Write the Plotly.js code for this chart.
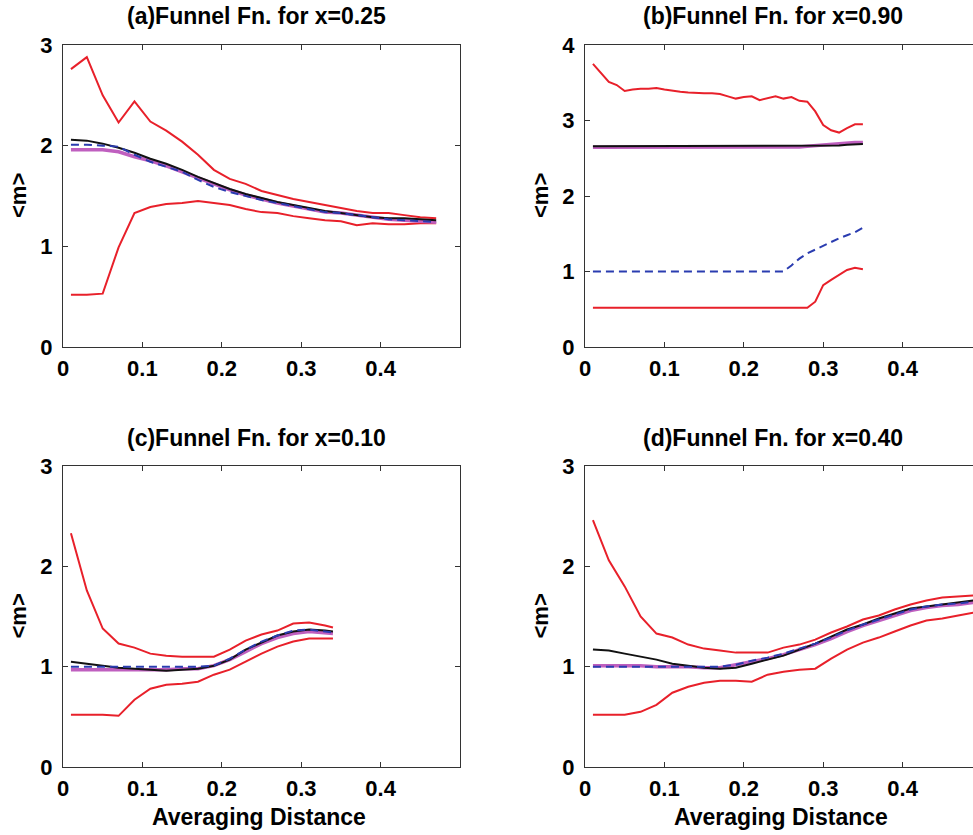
<!DOCTYPE html>
<html>
<head>
<meta charset="utf-8">
<script src="https://cdn.plot.ly/plotly-3.0.1.min.js"></script>
<style>
  html, body { margin: 0; padding: 0; overflow: hidden; background: #fff; }
  #plot { width: 1000px; height: 835px; }
</style>
</head>
<body>
<div id="plot"></div>
<script>
// Averaging distances (shared grid for panels a and d)
const xA = [0.01,0.03,0.05,0.07,0.09,0.11,0.13,0.15,0.17,0.19,0.21,0.23,0.25,0.27,0.29,0.31,0.33,0.35,0.37,0.39,0.41,0.43,0.45,0.47];
const xB = [0.01,0.02,0.03,0.04,0.05,0.06,0.07,0.08,0.09,0.10,0.11,0.12,0.13,0.14,0.15,0.16,0.17,0.18,0.19,0.20,0.21,0.22,0.23,0.24,0.25,0.26,0.27,0.28,0.29,0.30,0.31,0.32,0.33,0.34,0.35];
const xC = [0.01,0.03,0.05,0.07,0.09,0.11,0.13,0.15,0.17,0.19,0.21,0.23,0.25,0.27,0.29,0.31,0.33,0.34];
const xD = [0.01,0.03,0.05,0.07,0.09,0.11,0.13,0.15,0.17,0.19,0.21,0.23,0.25,0.27,0.29,0.31,0.33,0.35,0.37,0.39,0.41,0.43,0.45,0.47,0.49];

// (a) x = 0.25
const aUpper = [2.76,2.88,2.50,2.23,2.44,2.24,2.15,2.04,1.91,1.76,1.67,1.62,1.55,1.51,1.47,1.44,1.41,1.38,1.35,1.33,1.33,1.31,1.29,1.28];
const aLower = [0.52,0.52,0.53,0.99,1.33,1.39,1.42,1.43,1.45,1.43,1.41,1.37,1.34,1.33,1.30,1.28,1.26,1.25,1.21,1.23,1.22,1.22,1.23,1.23];
const aBlack = [2.06,2.05,2.02,1.98,1.93,1.87,1.82,1.76,1.69,1.63,1.57,1.52,1.48,1.44,1.41,1.38,1.35,1.33,1.31,1.29,1.28,1.28,1.27,1.26];
const aBlue  = [2.01,2.01,2.00,1.99,1.91,1.84,1.79,1.74,1.66,1.59,1.54,1.50,1.46,1.43,1.40,1.37,1.34,1.33,1.31,1.29,1.27,1.26,1.25,1.24];
const aMag   = [1.96,1.96,1.96,1.94,1.89,1.85,1.80,1.74,1.68,1.62,1.56,1.51,1.47,1.43,1.40,1.37,1.34,1.33,1.31,1.29,1.27,1.26,1.25,1.24];

// (b) x = 0.90
const bUpper = [3.75,3.63,3.51,3.47,3.39,3.41,3.42,3.42,3.43,3.41,3.39,3.38,3.37,3.36,3.36,3.36,3.35,3.32,3.29,3.31,3.32,3.27,3.29,3.32,3.29,3.31,3.26,3.25,3.12,2.94,2.87,2.84,2.90,2.95,2.95];
const bLower = [0.52,0.52,0.52,0.52,0.52,0.52,0.52,0.52,0.52,0.52,0.52,0.52,0.52,0.52,0.52,0.52,0.52,0.52,0.52,0.52,0.52,0.52,0.52,0.52,0.52,0.53,0.53,0.52,0.60,0.82,0.89,0.95,1.02,1.05,1.03];
const bBlack = [2.66,2.66,2.66,2.66,2.66,2.66,2.66,2.66,2.66,2.66,2.66,2.66,2.66,2.66,2.66,2.66,2.66,2.66,2.66,2.66,2.66,2.66,2.66,2.66,2.66,2.66,2.66,2.66,2.66,2.66,2.67,2.67,2.68,2.68,2.69];
const bBlue  = [1.00,1.00,1.00,1.00,1.00,1.00,1.00,1.00,1.00,1.00,1.00,1.00,1.00,1.00,1.00,1.00,1.00,1.00,1.00,1.00,1.00,1.00,1.00,1.00,1.00,1.08,1.17,1.24,1.29,1.35,1.39,1.44,1.48,1.52,1.58];
const bMag   = [2.645,2.645,2.645,2.645,2.645,2.645,2.645,2.645,2.645,2.645,2.645,2.645,2.645,2.645,2.645,2.645,2.645,2.645,2.645,2.645,2.645,2.645,2.645,2.645,2.645,2.645,2.65,2.66,2.67,2.68,2.69,2.70,2.70,2.71,2.71];

// (c) x = 0.10
const cUpper = [2.33,1.76,1.38,1.23,1.19,1.13,1.11,1.10,1.10,1.10,1.17,1.26,1.32,1.36,1.43,1.44,1.41,1.39];
const cLower = [0.52,0.52,0.52,0.51,0.67,0.78,0.82,0.83,0.85,0.92,0.97,1.05,1.13,1.20,1.25,1.28,1.28,1.28];
const cBlack = [1.05,1.03,1.01,0.99,0.98,0.97,0.96,0.97,0.98,1.01,1.07,1.17,1.24,1.31,1.35,1.37,1.36,1.35];
const cBlue  = [1.00,1.00,1.00,1.00,1.00,1.00,1.00,1.00,1.00,1.01,1.08,1.17,1.25,1.31,1.36,1.37,1.35,1.34];
const cMag   = [0.97,0.97,0.97,0.97,0.97,0.97,0.97,0.98,0.98,1.01,1.07,1.15,1.23,1.29,1.33,1.35,1.34,1.33];

// (d) x = 0.40
const dUpper = [2.46,2.06,1.80,1.50,1.33,1.29,1.22,1.18,1.16,1.14,1.14,1.14,1.19,1.22,1.27,1.34,1.40,1.47,1.51,1.57,1.62,1.66,1.69,1.70,1.71];
const dLower = [0.52,0.52,0.52,0.55,0.62,0.74,0.80,0.84,0.86,0.86,0.85,0.92,0.95,0.97,0.98,1.08,1.17,1.24,1.29,1.35,1.41,1.46,1.48,1.51,1.54];
const dBlack = [1.17,1.16,1.13,1.10,1.07,1.03,1.01,0.99,0.98,0.99,1.03,1.07,1.11,1.17,1.23,1.30,1.37,1.42,1.48,1.53,1.58,1.60,1.62,1.64,1.66];
const dBlue  = [1.00,1.00,1.00,1.00,1.00,1.00,1.00,1.00,1.00,1.02,1.06,1.09,1.13,1.18,1.23,1.29,1.36,1.42,1.47,1.52,1.57,1.60,1.62,1.63,1.65];
const dMag   = [1.01,1.01,1.01,1.01,1.00,1.00,1.00,0.99,0.99,1.02,1.05,1.08,1.12,1.17,1.22,1.28,1.35,1.41,1.46,1.51,1.56,1.59,1.61,1.62,1.64];

const titles = ['(a)Funnel Fn. for x=0.25', '(b)Funnel Fn. for x=0.90', '(c)Funnel Fn. for x=0.10', '(d)Funnel Fn. for x=0.40'];
const yTop = [3, 4, 3, 3];
const xTickVals = [0, 0.1, 0.2, 0.3, 0.4];
const xTickText = ['0', '0.1', '0.2', '0.3', '0.4'];

const RED = '#e8202a', BLACK = '#111111', BLUE = '#2a3cb0', MAG = '#bf5fbf';
const panels = [
  {x: xA, up: aUpper, lo: aLower, bk: aBlack, bl: aBlue, mg: aMag},
  {x: xB, up: bUpper, lo: bLower, bk: bBlack, bl: bBlue, mg: bMag},
  {x: xC, up: cUpper, lo: cLower, bk: cBlack, bl: cBlue, mg: cMag},
  {x: xD, up: dUpper, lo: dLower, bk: dBlack, bl: dBlue, mg: dMag}
];

const traces = [];
panels.forEach((p, i) => {
  const xa = i === 0 ? 'x' : 'x' + (i + 1);
  const ya = i === 0 ? 'y' : 'y' + (i + 1);
  const common = {mode: 'lines', xaxis: xa, yaxis: ya, hoverinfo: 'skip', showlegend: false};
  traces.push(Object.assign({x: p.x, y: p.up, line: {color: RED, width: 2}}, common));
  traces.push(Object.assign({x: p.x, y: p.lo, line: {color: RED, width: 2}}, common));
  traces.push(Object.assign({x: p.x, y: p.mg, line: {color: MAG, width: 3.5}}, common));
  traces.push(Object.assign({x: p.x, y: p.bk, line: {color: BLACK, width: 2}}, common));
  traces.push(Object.assign({x: p.x, y: p.bl, line: {color: BLUE, width: 2, dash: '8px,5px'}}, common));
});

// panel frames in pixels (figure is 1000 wide, right edge clipped by the window)
const W = 1000, H = 835;
const colPx = [[63, 460], [585, 982]];
const rowPx = [[45, 347], [466, 767]];
const FONT = 'Liberation Sans, Arial, sans-serif';
const tickFont = {family: FONT, size: 22, color: '#000', weight: 'bold'};

const layout = {
  width: W, height: H,
  margin: {l: 0, r: 0, t: 0, b: 0},
  paper_bgcolor: '#fff', plot_bgcolor: '#fff',
  annotations: []
};

for (let i = 0; i < 4; i++) {
  const c = i % 2, r = Math.floor(i / 2);
  const xk = i === 0 ? 'xaxis' : 'xaxis' + (i + 1);
  const yk = i === 0 ? 'yaxis' : 'yaxis' + (i + 1);
  const yname = i === 0 ? 'y' : 'y' + (i + 1);
  const xname = i === 0 ? 'x' : 'x' + (i + 1);
  const yt = [];
  for (let v = 0; v <= yTop[i]; v++) yt.push(v);
  layout[xk] = {
    domain: [colPx[c][0] / W, colPx[c][1] / W],
    anchor: yname,
    range: [0, 0.5],
    tickvals: xTickVals,
    ticktext: xTickText,
    ticks: 'inside', ticklen: 5, tickcolor: '#333', tickwidth: 1,
    showline: true, linecolor: '#333', linewidth: 1, mirror: 'ticks',
    showgrid: false, zeroline: false,
    tickfont: tickFont, ticklabelstandoff: 2
  };
  layout[yk] = {
    domain: [1 - rowPx[r][1] / H, 1 - rowPx[r][0] / H],
    anchor: xname,
    range: [0, yTop[i]],
    tickvals: yt,
    ticks: 'inside', ticklen: 5, tickcolor: '#333', tickwidth: 1,
    showline: true, linecolor: '#333', linewidth: 1, mirror: 'ticks',
    showgrid: false, zeroline: false,
    tickfont: tickFont, ticklabelstandoff: 5
  };
  const titleX = c === 0 ? 256 : 773;
  const titleY = r === 0 ? 16 : 438;
  layout.annotations.push({
    text: titles[i], xref: 'paper', yref: 'paper',
    x: titleX / W, y: 1 - titleY / H, xanchor: 'center', yanchor: 'middle',
    showarrow: false,
    font: {family: FONT, size: 23, color: '#000', weight: 'bold'}
  });
  const labX = c === 0 ? 18 : 540;
  const labY = (rowPx[r][0] + rowPx[r][1]) / 2;
  layout.annotations.push({
    text: '&lt;m&gt;', xref: 'paper', yref: 'paper',
    x: labX / W, y: 1 - labY / H, xanchor: 'center', yanchor: 'middle',
    textangle: -90, showarrow: false,
    font: {family: FONT, size: 22, color: '#000', weight: 'bold'}
  });
  if (r === 1) {
    layout.annotations.push({
      text: 'Averaging Distance', xref: 'paper', yref: 'paper',
      x: (c === 0 ? 259 : 781) / W, y: 1 - 817 / H, xanchor: 'center', yanchor: 'middle',
      showarrow: false,
      font: {family: FONT, size: 23, color: '#000', weight: 'bold'}
    });
  }
}

Plotly.newPlot('plot', traces, layout, {staticPlot: true, displayModeBar: false});
</script>
</body>
</html>
